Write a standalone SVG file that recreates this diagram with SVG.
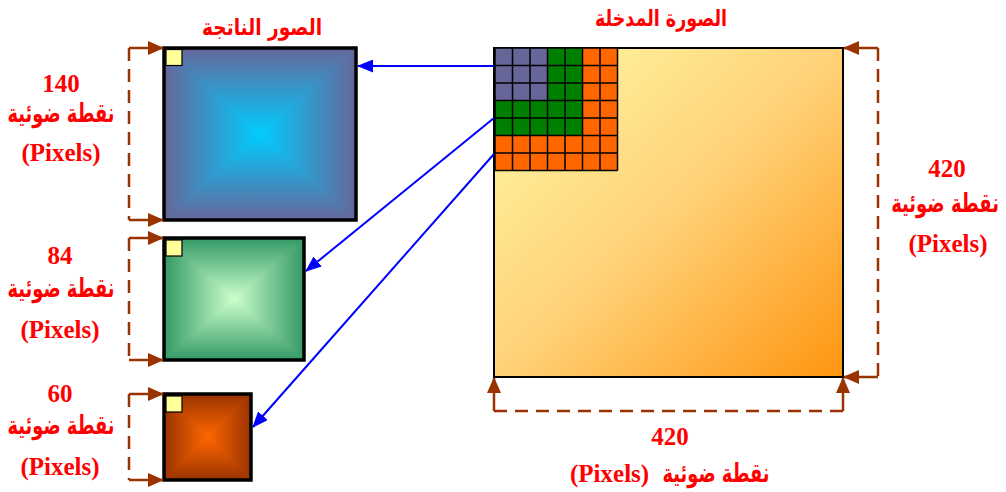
<svg xmlns="http://www.w3.org/2000/svg" width="1006" height="492" viewBox="0 0 1006 492">
  <style>
    .num { font-family: "Liberation Serif", "Times New Roman", serif; font-weight: bold; font-size: 25px; fill: #ff0000; text-anchor: middle; }
    .ar { font-family: "DejaVu Sans", sans-serif; font-weight: bold; font-size: 26px; fill: #ff0000; text-anchor: middle; }
    .title { font-family: "DejaVu Sans", sans-serif; font-weight: bold; font-size: 23px; fill: #ff0000; text-anchor: middle; }
    .frame { fill: none; stroke: #000000; stroke-width: 3.5; }
    .marker-sq { fill: #ffff99; stroke: #000000; stroke-width: 1.2; }
    .dim-solid { fill: none; stroke: #993300; stroke-width: 2.5; }
    .dim-dash { fill: none; stroke: #993300; stroke-width: 2.5; stroke-dasharray: 13 8; }
    .link { fill: none; stroke: #0000ff; stroke-width: 2; }
    .grid { fill: none; stroke: #000000; stroke-width: 1.5; }
  </style>
  <defs>
    <marker id="arrowBlue" viewBox="0 0 16 13" refX="15" refY="6.5" markerWidth="16" markerHeight="13" markerUnits="userSpaceOnUse" orient="auto">
      <path d="M0,0 L16,6.5 L0,13 z" fill="#0000ff"/>
    </marker>
    <marker id="arrowBrown" viewBox="0 0 16 14" refX="15" refY="7" markerWidth="16" markerHeight="14" markerUnits="userSpaceOnUse" orient="auto">
      <path d="M0,0 L16,7 L0,14 z" fill="#993300"/>
    </marker>

    <!-- input image fill -->
    <linearGradient id="inputFill" x1="0" y1="0" x2="1" y2="1">
      <stop offset="0" stop-color="#fffaa8"/>
      <stop offset="0.5" stop-color="#ffd278"/>
      <stop offset="1" stop-color="#ff9510"/>
    </linearGradient>

    <!-- rectangular "from centre" fills: edge colour at 0, centre colour at 1 -->
    <linearGradient id="blueStops"><stop offset="0" stop-color="#666699"/><stop offset="1" stop-color="#00ccff"/></linearGradient>
    <linearGradient id="blueT" href="#blueStops" x1="0" y1="0" x2="0" y2="1"/>
    <linearGradient id="blueB" href="#blueStops" x1="0" y1="1" x2="0" y2="0"/>
    <linearGradient id="blueL" href="#blueStops" x1="0" y1="0" x2="1" y2="0"/>
    <linearGradient id="blueR" href="#blueStops" x1="1" y1="0" x2="0" y2="0"/>
    <radialGradient id="blueBase"><stop offset="0" stop-color="#00ccff"/><stop offset="1" stop-color="#666699"/></radialGradient>

    <linearGradient id="greenStops"><stop offset="0" stop-color="#339966"/><stop offset="1" stop-color="#ccffcc"/></linearGradient>
    <linearGradient id="greenT" href="#greenStops" x1="0" y1="0" x2="0" y2="1"/>
    <linearGradient id="greenB" href="#greenStops" x1="0" y1="1" x2="0" y2="0"/>
    <linearGradient id="greenL" href="#greenStops" x1="0" y1="0" x2="1" y2="0"/>
    <linearGradient id="greenR" href="#greenStops" x1="1" y1="0" x2="0" y2="0"/>
    <radialGradient id="greenBase"><stop offset="0" stop-color="#ccffcc"/><stop offset="1" stop-color="#339966"/></radialGradient>

    <linearGradient id="rustStops"><stop offset="0" stop-color="#993300"/><stop offset="1" stop-color="#ff6600"/></linearGradient>
    <linearGradient id="rustT" href="#rustStops" x1="0" y1="0" x2="0" y2="1"/>
    <linearGradient id="rustB" href="#rustStops" x1="0" y1="1" x2="0" y2="0"/>
    <linearGradient id="rustL" href="#rustStops" x1="0" y1="0" x2="1" y2="0"/>
    <linearGradient id="rustR" href="#rustStops" x1="1" y1="0" x2="0" y2="0"/>
    <radialGradient id="rustBase"><stop offset="0" stop-color="#ff6600"/><stop offset="1" stop-color="#993300"/></radialGradient>
  </defs>

  <rect width="1006" height="492" fill="#ffffff"/>

  <!-- input image 420 x 420 -->
  <g id="input-image">
    <rect x="494" y="48" width="349" height="329" fill="url(#inputFill)" stroke="#000000" stroke-width="2"/>
    <!-- pixel blocks -->
    <rect x="495" y="48" width="52.5" height="52.5" fill="#666699"/>
    <path d="M547.5,48 H582.5 V135.5 H495 V100.5 H547.5 Z" fill="#008000"/>
    <path d="M582.5,48 H617.5 V170.5 H495 V135.5 H582.5 Z" fill="#ff6600"/>
    <path class="grid" d="M495,48 V170.5 M512.5,48 V170.5 M530,48 V170.5 M547.5,48 V170.5 M565,48 V170.5 M582.5,48 V170.5 M600,48 V170.5 M617.5,48 V170.5 M495,48 H617.5 M495,65.5 H617.5 M495,83 H617.5 M495,100.5 H617.5 M495,118 H617.5 M495,135.5 H617.5 M495,153 H617.5 M495,170.5 H617.5"/>
    <text class="title" x="661" y="26" textLength="132" lengthAdjust="spacingAndGlyphs">الصورة المدخلة</text>
  </g>

  <!-- output image 140 x 140 -->
  <g id="output-140">
    <rect x="164" y="48" width="192" height="172" fill="url(#blueBase)"/>
    <polygon points="164,48 356,48 260,134" fill="url(#blueT)"/>
    <polygon points="164,220 356,220 260,134" fill="url(#blueB)"/>
    <polygon points="164,48 164,220 260,134" fill="url(#blueL)"/>
    <polygon points="356,48 356,220 260,134" fill="url(#blueR)"/>
    <rect class="frame" x="164" y="48" width="192" height="172"/>
    <rect class="marker-sq" x="166" y="49.5" width="16" height="16"/>
    <text class="title" x="262" y="35" textLength="120" lengthAdjust="spacingAndGlyphs">الصور الناتجة</text>
  </g>

  <!-- output image 84 x 84 -->
  <g id="output-84">
    <rect x="164" y="238" width="140" height="122" fill="url(#greenBase)"/>
    <polygon points="164,238 304,238 234,299" fill="url(#greenT)"/>
    <polygon points="164,360 304,360 234,299" fill="url(#greenB)"/>
    <polygon points="164,238 164,360 234,299" fill="url(#greenL)"/>
    <polygon points="304,238 304,360 234,299" fill="url(#greenR)"/>
    <rect class="frame" x="164" y="238" width="140" height="122"/>
    <rect class="marker-sq" x="166" y="240" width="16" height="16"/>
  </g>

  <!-- output image 60 x 60 -->
  <g id="output-60">
    <rect x="164" y="394" width="87" height="86" fill="url(#rustBase)"/>
    <polygon points="164,394 251,394 207.5,437" fill="url(#rustT)"/>
    <polygon points="164,480 251,480 207.5,437" fill="url(#rustB)"/>
    <polygon points="164,394 164,480 207.5,437" fill="url(#rustL)"/>
    <polygon points="251,394 251,480 207.5,437" fill="url(#rustR)"/>
    <rect class="frame" x="164" y="394" width="87" height="86"/>
    <rect class="marker-sq" x="166" y="396" width="16" height="16"/>
  </g>

  <!-- size labels -->
  <g id="labels">
    <text class="num" x="61" y="92">140</text>
    <text class="ar" x="61" y="122" textLength="107" lengthAdjust="spacingAndGlyphs">نقطة ضوئية</text>
    <text class="num" x="61" y="161">(Pixels)</text>

    <text class="num" x="60" y="264">84</text>
    <text class="ar" x="61" y="297" textLength="107" lengthAdjust="spacingAndGlyphs">نقطة ضوئية</text>
    <text class="num" x="60" y="338">(Pixels)</text>

    <text class="num" x="60" y="402">60</text>
    <text class="ar" x="61" y="434" textLength="107" lengthAdjust="spacingAndGlyphs">نقطة ضوئية</text>
    <text class="num" x="60" y="475">(Pixels)</text>

    <text class="num" x="947" y="177">420</text>
    <text class="ar" transform="translate(945,212) scale(0.69,1)">نقطة ضوئية</text>
    <text class="num" x="948" y="252">(Pixels)</text>

    <text class="num" x="670" y="445">420</text>
    <text class="ar" x="716" y="482" textLength="107" lengthAdjust="spacingAndGlyphs">نقطة ضوئية</text>
    <text class="num" x="570" y="482" style="text-anchor:start">(Pixels)</text>
  </g>

  <g id="connectors">
    <!-- mapping arrows -->
    <line class="link" x1="494" y1="66" x2="358" y2="66" marker-end="url(#arrowBlue)"/>
    <line class="link" x1="494" y1="118" x2="306" y2="271" marker-end="url(#arrowBlue)"/>
    <line class="link" x1="494" y1="154" x2="253" y2="427" marker-end="url(#arrowBlue)"/>

    <!-- dimension lines, output images -->
    <line class="dim-solid" x1="129" y1="48" x2="163" y2="48" marker-end="url(#arrowBrown)"/>
    <line class="dim-dash" x1="129" y1="48" x2="129" y2="220"/>
    <line class="dim-solid" x1="129" y1="220" x2="163" y2="220" marker-end="url(#arrowBrown)"/>

    <line class="dim-solid" x1="129" y1="238" x2="163" y2="238" marker-end="url(#arrowBrown)"/>
    <line class="dim-dash" x1="129" y1="238" x2="129" y2="360"/>
    <line class="dim-solid" x1="129" y1="360" x2="163" y2="360" marker-end="url(#arrowBrown)"/>

    <line class="dim-solid" x1="129" y1="394" x2="163" y2="394" marker-end="url(#arrowBrown)"/>
    <line class="dim-dash" x1="129" y1="394" x2="129" y2="480"/>
    <line class="dim-solid" x1="129" y1="480" x2="163" y2="480" marker-end="url(#arrowBrown)"/>

    <!-- dimension lines, input image -->
    <line class="dim-solid" x1="878" y1="48" x2="844" y2="48" marker-end="url(#arrowBrown)"/>
    <line class="dim-dash" x1="878" y1="48" x2="878" y2="377"/>
    <line class="dim-solid" x1="878" y1="377" x2="844" y2="377" marker-end="url(#arrowBrown)"/>

    <line class="dim-solid" x1="494" y1="411" x2="494" y2="378" marker-end="url(#arrowBrown)"/>
    <line class="dim-dash" x1="494" y1="411" x2="843" y2="411"/>
    <line class="dim-solid" x1="843" y1="411" x2="843" y2="378" marker-end="url(#arrowBrown)"/>
  </g>
</svg>
